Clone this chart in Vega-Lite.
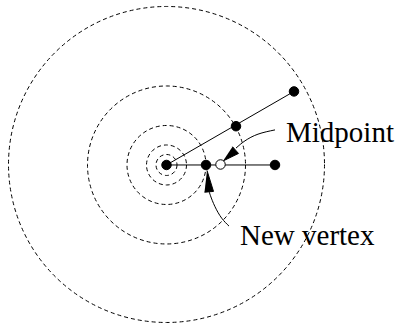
{
  "$schema": "https://vega.github.io/schema/vega-lite/v6.json",
  "width": 395,
  "height": 324,
  "autosize": {"type": "fit", "contains": "padding"},
  "padding": 0,
  "background": "white",
  "config": {"view": {"stroke": null}, "axis": {"disable": true}},
  "datasets": {
    "circles": [
      {"cx": 166.5, "cy": 166, "r": 10.5},
      {"cx": 166.5, "cy": 166, "r": 20},
      {"cx": 166.5, "cy": 166, "r": 39.5},
      {"cx": 166.5, "cy": 166, "r": 79},
      {"cx": 166.5, "cy": 165.5, "r": 158}
    ],
    "segments": [
      {"seg": "a", "ord": 0, "x": 166.5, "y": 166},
      {"seg": "a", "ord": 1, "x": 294, "y": 92},
      {"seg": "b", "ord": 0, "x": 166.5, "y": 166},
      {"seg": "b", "ord": 1, "x": 275, "y": 166}
    ],
    "curves": [
      {"arrow": "mid", "ord": 0, "x": 275, "y": 130.7},
      {"arrow": "mid", "ord": 1, "x": 258, "y": 135},
      {"arrow": "mid", "ord": 2, "x": 245, "y": 141.7},
      {"arrow": "mid", "ord": 3, "x": 236, "y": 149},
      {"arrow": "new", "ord": 0, "x": 229, "y": 227.5},
      {"arrow": "new", "ord": 1, "x": 221.7, "y": 219.5},
      {"arrow": "new", "ord": 2, "x": 215, "y": 208},
      {"arrow": "new", "ord": 3, "x": 210.5, "y": 197},
      {"arrow": "new", "ord": 4, "x": 209, "y": 192}
    ],
    "heads": [
      {"arrow": "mid", "ord": 0, "x": 223, "y": 162},
      {"arrow": "mid", "ord": 1, "x": 238.5, "y": 154.4},
      {"arrow": "mid", "ord": 2, "x": 232.5, "y": 147.6},
      {"arrow": "new", "ord": 0, "x": 207, "y": 171.5},
      {"arrow": "new", "ord": 1, "x": 213.5, "y": 192.6},
      {"arrow": "new", "ord": 2, "x": 204.5, "y": 193.4}
    ],
    "dots": [
      {"x": 166.5, "y": 166, "kind": "vertex"},
      {"x": 206, "y": 166, "kind": "vertex"},
      {"x": 275, "y": 166, "kind": "vertex"},
      {"x": 236, "y": 127, "kind": "vertex"},
      {"x": 294, "y": 92, "kind": "vertex"},
      {"x": 220.5, "y": 165.5, "kind": "midpoint"}
    ],
    "labels": [
      {"x": 286, "y": 142.5, "text": "Midpoint"},
      {"x": 240, "y": 246.5, "text": "New vertex"}
    ]
  },
  "layer": [
    {
      "data": {"name": "circles"},
      "mark": {"type": "point", "shape": "circle", "filled": false, "stroke": "black", "strokeWidth": 1, "strokeDash": [4, 3], "opacity": 1},
      "encoding": {
        "x": {"field": "cx", "type": "quantitative", "scale": {"domain": [0, 395], "nice": false, "zero": false}, "axis": null},
        "y": {"field": "cy", "type": "quantitative", "scale": {"domain": [0, 324], "nice": false, "zero": false, "reverse": true}, "axis": null},
        "size": {"field": "r", "type": "quantitative", "scale": {"type": "pow", "exponent": 2, "domain": [0, 160], "range": [0, 102400]}, "legend": null}
      }
    },
    {
      "data": {"name": "segments"},
      "mark": {"type": "line", "stroke": "black", "strokeWidth": 1},
      "encoding": {
        "x": {"field": "x", "type": "quantitative"},
        "y": {"field": "y", "type": "quantitative"},
        "detail": {"field": "seg"},
        "order": {"field": "ord", "type": "quantitative"}
      }
    },
    {
      "data": {"name": "curves"},
      "mark": {"type": "line", "stroke": "black", "strokeWidth": 1, "interpolate": "natural"},
      "encoding": {
        "x": {"field": "x", "type": "quantitative"},
        "y": {"field": "y", "type": "quantitative"},
        "detail": {"field": "arrow"},
        "order": {"field": "ord", "type": "quantitative"}
      }
    },
    {
      "data": {"name": "heads"},
      "mark": {"type": "line", "stroke": "black", "strokeWidth": 1, "fill": "black", "strokeJoin": "miter"},
      "encoding": {
        "x": {"field": "x", "type": "quantitative"},
        "y": {"field": "y", "type": "quantitative"},
        "detail": {"field": "arrow"},
        "order": {"field": "ord", "type": "quantitative"}
      }
    },
    {
      "data": {"name": "dots"},
      "mark": {"type": "point", "shape": "circle", "size": 90, "strokeWidth": 1, "opacity": 1},
      "encoding": {
        "x": {"field": "x", "type": "quantitative"},
        "y": {"field": "y", "type": "quantitative"},
        "fill": {"field": "kind", "type": "nominal", "scale": {"domain": ["vertex", "midpoint"], "range": ["black", "white"]}, "legend": null},
        "stroke": {"value": "black"}
      }
    },
    {
      "data": {"name": "labels"},
      "mark": {"type": "text", "font": "Liberation Serif", "fontSize": 29, "align": "left", "baseline": "alphabetic", "color": "black"},
      "encoding": {
        "x": {"field": "x", "type": "quantitative"},
        "y": {"field": "y", "type": "quantitative"},
        "text": {"field": "text"}
      }
    }
  ]
}
